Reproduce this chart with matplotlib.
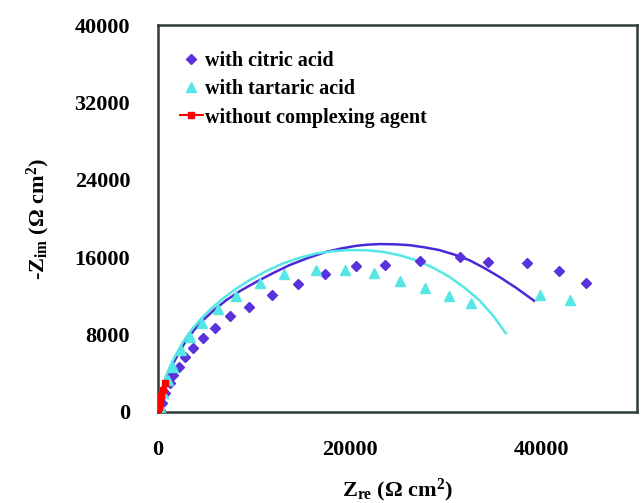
import matplotlib.pyplot as plt

plt.rcParams['font.family'] = 'Liberation Serif'
plt.rcParams['font.weight'] = 'bold'
plt.rcParams['axes.labelweight'] = 'bold'
plt.rcParams['mathtext.fontset'] = 'custom'
plt.rcParams['mathtext.rm'] = 'Liberation Serif:bold'
plt.rcParams['mathtext.bf'] = 'Liberation Serif:bold'
plt.rcParams['mathtext.it'] = 'Liberation Serif:bold:italic'

# measured impedance, citric acid bath
citric_re = [200, 380, 730, 1250, 1600, 2220, 2810, 3610, 4720, 5970, 7570, 9510,
             11940, 14580, 17460, 20690, 23750, 27360, 31560, 34510, 38500, 41880, 44650]
citric_im = [200, 930, 1960, 3000, 3820, 4680, 5650, 6580, 7610, 8710, 9880, 10880,
             12090, 13220, 14220, 15120, 15190, 15560, 15980, 15460, 15420, 14600, 13360]

# measured impedance, tartaric acid bath
tart_re = [200, 560, 1080, 1600, 2460, 3330, 4550, 6280, 8190, 10630, 13200, 16460,
           19580, 22530, 25280, 27920, 30420, 32670, 39860, 42990]
tart_im = [550, 1930, 3300, 4680, 6400, 7780, 9160, 10610, 11980, 13300, 14260, 14670,
           14670, 14330, 13570, 12780, 11980, 11230, 12090, 11570]

# without complexing agent
none_re = [0, 100, 200, 350, 500, 700]
none_im = [0, 500, 1000, 1700, 2300, 3000]

# fitted curves
citric_fit_re = [0, 250, 550, 1000, 1600, 2250, 2990, 3800, 4720, 5900, 7150, 8650,
                 10280, 12000, 13750, 15650, 17570, 19100, 20690, 21900, 23125, 24700,
                 26250, 27800, 29380, 30950, 32500, 34050, 35625, 37450, 39270]
citric_fit_im = [0, 1350, 2620, 3850, 5030, 6250, 7440, 8500, 9500, 10580, 11570, 12550,
                 13460, 14350, 15190, 15920, 16560, 16900, 17180, 17300, 17360, 17340,
                 17250, 17030, 16740, 16270, 15700, 14900, 13980, 12800, 11500]
tart_fit_re = [0, 150, 380, 750, 1250, 1900, 2640, 3450, 4375, 5550, 6800, 8150,
               9580, 11300, 13050, 14800, 16530, 18250, 20000, 21750, 23470, 25200,
               26950, 28700, 30420, 32000, 33540, 35000, 36320]
tart_fit_im = [0, 1150, 2270, 3480, 4680, 5970, 7260, 8430, 9500, 10680, 11740, 12730,
               13640, 14560, 15360, 15940, 16390, 16630, 16740, 16720, 16560, 16210,
               15700, 14930, 13980, 12850, 11570, 9950, 8130]

purple = '#5a32dc'
cyan = '#55e6e6'

fig = plt.figure(figsize=(6.42, 5.03), dpi=100)
ax = fig.add_axes([0.246, 0.181, 0.746, 0.769])

ax.plot(citric_fit_re, citric_fit_im, color='#4b28d6', lw=1.8, zorder=2)
ax.plot(tart_fit_re, tart_fit_im, color=cyan, lw=1.8, zorder=2)
ax.plot(citric_re, citric_im, ls='none', marker='D', ms=5.5, color=purple,
        label='with citric acid', zorder=3)
ax.plot(tart_re, tart_im, ls='none', marker='^', ms=7, color=cyan,
        label='with tartaric acid', zorder=3)
ax.plot(none_re, none_im, color='#ff0000', lw=1.5, marker='s', ms=4,
        label='without complexing agent', zorder=4)

ax.set_xlim(0, 50000)
ax.set_ylim(0, 40000)
ax.set_xticks([0, 20000, 40000])
ax.set_yticks([0, 8000, 16000, 24000, 32000, 40000])
ax.tick_params(length=0, labelsize=16, pad=20)
for sp in ax.spines.values():
    sp.set_color('#2e3a3a')
    sp.set_linewidth(1.8)

ax.set_xlabel(r'Z$_{\mathrm{re}}$ ($\mathrm{\Omega}$ cm$^{2}$)', fontsize=16, labelpad=12)
ax.set_ylabel(r'-Z$_{\mathrm{im}}$ ($\mathrm{\Omega}$ cm$^{2}$)', fontsize=16, labelpad=16)

ax.legend(loc='upper left', bbox_to_anchor=(0.03, 0.955), frameon=False,
          fontsize=14.5, handlelength=1.1, handletextpad=0.1, labelspacing=0.42,
          borderaxespad=0)

fig.savefig('out.png', dpi=100)
